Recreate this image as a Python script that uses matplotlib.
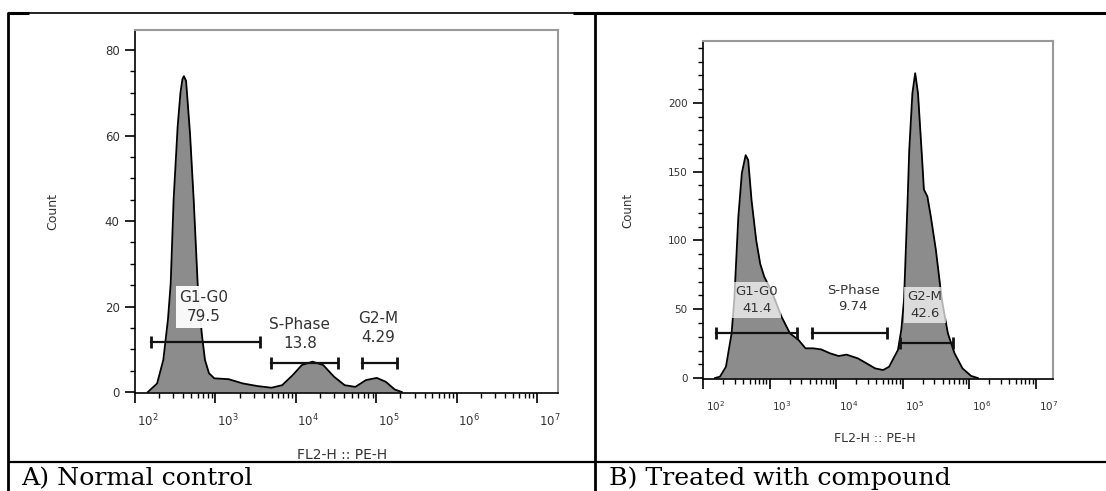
import numpy as np
import matplotlib.pyplot as plt
import matplotlib.transforms as mtransforms
from matplotlib.lines import Line2D
from matplotlib.ticker import LogLocator, MultipleLocator, FixedLocator, NullFormatter

W, H = 1106, 491

# ---- data (x given as log10 of FL2-H) ----
ctrl_exp = [2.16, 2.275, 2.352, 2.41, 2.444, 2.48, 2.53, 2.565, 2.59, 2.608, 2.635, 2.684, 2.73,
            2.78, 2.83, 2.87, 2.92, 2.986, 3.164, 3.342, 3.52, 3.697, 3.83, 3.964, 4.074,
            4.208, 4.341, 4.474, 4.607, 4.74, 4.873, 5.007, 5.118, 5.229, 5.318]
ctrl_count = [0, 2.0, 7.5, 17, 25.4, 44.9, 62, 70, 73.2, 73.9, 72.8, 60.5, 44.9,
              25, 13.7, 7.5, 4.4, 3.2, 3.0, 2.0, 1.4, 1.0, 1.6, 4.0, 6.3,
              7.1, 6.3, 3.6, 1.6, 1.2, 2.8, 3.3, 2.4, 0.6, 0]

trt_exp = [2.18, 2.255, 2.345, 2.43, 2.47, 2.531, 2.584, 2.641, 2.679, 2.73, 2.8, 2.86, 2.92,
           3.044, 3.18, 3.306, 3.437, 3.54, 3.656, 3.776, 3.907, 4.038, 4.158, 4.326, 4.457,
           4.587, 4.707, 4.797, 4.876, 4.93, 4.98, 5.021, 5.075, 5.1, 5.147, 5.189, 5.231,
           5.284, 5.32, 5.372, 5.425, 5.5, 5.59, 5.68, 5.78, 5.9, 6.03, 6.13]
trt_count = [0, 1.0, 8.2, 32.5, 56.7, 117, 149, 162, 158.5, 129, 100, 83, 73.7,
             61.6, 44.6, 32.5, 27.6, 21.6, 21.6, 20.8, 18, 16, 17, 14.3, 10.7,
             7, 5.8, 8.2, 15.5, 20.4, 35, 56.7, 129, 166, 207, 221.6, 207,
             166, 137, 132, 117, 93, 56.7, 32.5, 18, 7, 1.5, 0]

gate_names = ["G1-G0", "S-Phase", "G2-M"]
ctrl_pct = ["79.5", "13.8", "4.29"]
trt_pct = ["41.4", "9.74", "42.6"]

ctrl_bar_lo = [2.195, 3.688, 4.82]
ctrl_bar_hi = [3.555, 4.529, 5.255]
ctrl_bar_y = [11.8, 6.9, 6.7]
ctrl_lab_x = [2.858, 4.05, 5.026]
ctrl_lab_y = [19.9, 13.5, 15.0]

trt_bar_lo = [2.195, 3.632, 4.968]
trt_bar_hi = [3.416, 4.758, 5.758]
trt_bar_y = [32.5, 32.5, 25.2]
trt_lab_x = [2.806, 4.257, 5.333]
trt_lab_y = [56.7, 57.7, 53.1]

captions = ["A) Normal control", "B) Treated with compound"]

FILL = '#8c8c8c'
TXT = '#333333'


def px_rect(x0, y0, x1, y1):
    return [x0 / W, 1 - y1 / H, (x1 - x0) / W, (y1 - y0) / H]


def draw_panel(ax, exps, counts, ylim, ymajor, yminor, names, pcts,
               bar_lo, bar_hi, bar_y, lab_x, lab_y, fs_lab, fs_tick, lab_alpha):
    x = 10 ** np.array(exps)
    y = np.array(counts)
    ax.fill_between(x, 0, y, color=FILL, lw=0, zorder=1)
    ax.plot(x, y, color='black', lw=1.3, zorder=2)

    for lo, hi, yy in zip(bar_lo, bar_hi, bar_y):
        ax.plot([10 ** lo, 10 ** hi], [yy, yy], color='#111111', lw=1.6,
                marker='|', ms=9, mew=2, zorder=3)
    for nm, pc, lx, ly in zip(names, pcts, lab_x, lab_y):
        ax.text(10 ** lx, ly, nm + "\n" + pc, ha='center', va='center',
                fontsize=fs_lab, color=TXT, linespacing=1.35, zorder=4,
                bbox=dict(boxstyle='square,pad=0.25', facecolor='white',
                          edgecolor='none', alpha=lab_alpha))

    ax.set_xscale('log')
    ax.set_xlim(1e2, 10 ** 7.26)
    ax.set_ylim(*ylim)
    ax.xaxis.set_major_locator(FixedLocator([1e2, 1e3, 1e4, 1e5, 1e6, 1e7]))
    ax.xaxis.set_minor_locator(LogLocator(base=10, subs=np.arange(2, 10), numticks=20))
    ax.xaxis.set_minor_formatter(NullFormatter())
    ax.set_xticklabels([r'$10^{%d}$' % k for k in range(2, 8)])
    ax.yaxis.set_major_locator(MultipleLocator(ymajor))
    ax.yaxis.set_minor_locator(MultipleLocator(yminor))

    ax.tick_params(axis='both', which='major', direction='out', length=7, width=1.2,
                   colors='black', labelcolor=TXT, labelsize=fs_tick)
    ax.tick_params(axis='both', which='minor', direction='out', length=3.5, width=1.0)
    ax.tick_params(axis='x', which='major', pad=7)
    ax.tick_params(axis='y', which='major', pad=4)

    for side in ['top', 'right']:
        ax.spines[side].set_color('#999999')
        ax.spines[side].set_linewidth(1.5)
    for side in ['left', 'bottom']:
        ax.spines[side].set_color('black')
        ax.spines[side].set_linewidth(1.2)

    # labels sit a little right of their decade tick in the original
    shift = mtransforms.ScaledTranslation(9 / 72, 0, ax.figure.dpi_scale_trans)
    for lab in ax.get_xticklabels():
        lab.set_transform(lab.get_transform() + shift)


fig = plt.figure(figsize=(W / 100, H / 100), dpi=100)

ax1 = fig.add_axes(px_rect(135, 30, 558, 393.3))
draw_panel(ax1, ctrl_exp, ctrl_count, (-0.3, 84.7), 20, 5, gate_names, ctrl_pct,
           ctrl_bar_lo, ctrl_bar_hi, ctrl_bar_y, ctrl_lab_x, ctrl_lab_y, 11, 8.5, 0.95)

ax2 = fig.add_axes(px_rect(703, 41, 1053, 379.4))
draw_panel(ax2, trt_exp, trt_count, (-1, 245), 50, 10, gate_names, trt_pct,
           trt_bar_lo, trt_bar_hi, trt_bar_y, trt_lab_x, trt_lab_y, 9.5, 7.5, 0.7)

# axis titles
fig.text(53 / W, 1 - 212 / H, "Count", rotation=90, ha='center', va='center',
         fontsize=9, color=TXT)
fig.text(342 / W, 1 - 455 / H, "FL2-H :: PE-H", ha='center', va='center',
         fontsize=10, color=TXT)
fig.text(628 / W, 1 - 210 / H, "Count", rotation=90, ha='center', va='center',
         fontsize=8.5, color=TXT)
fig.text(875 / W, 1 - 438 / H, "FL2-H :: PE-H", ha='center', va='center',
         fontsize=9, color=TXT)

# table grid around the two panels
def tline(xs, ys, lw):
    fig.add_artist(Line2D([v / W for v in xs], [1 - v / H for v in ys],
                          transform=fig.transFigure, color='black', lw=lw,
                          solid_capstyle='butt'))

tline([8, W], [13, 13], 1.2)
tline([8, 29], [13, 13], 2.2)
tline([573, W], [13, 13], 2.2)
tline([8, 8], [12, H], 2.0)
tline([595, 595], [12, H], 2.0)
tline([8, W], [462, 462], 1.6)

fig.text(21 / W, 1 - 485 / H, captions[0], ha='left', va='baseline',
         fontsize=18.2, family='DejaVu Serif', color='black')
fig.text(609 / W, 1 - 485 / H, captions[1], ha='left', va='baseline',
         fontsize=18.2, family='DejaVu Serif', color='black')

fig.savefig('out.png', dpi=100)
